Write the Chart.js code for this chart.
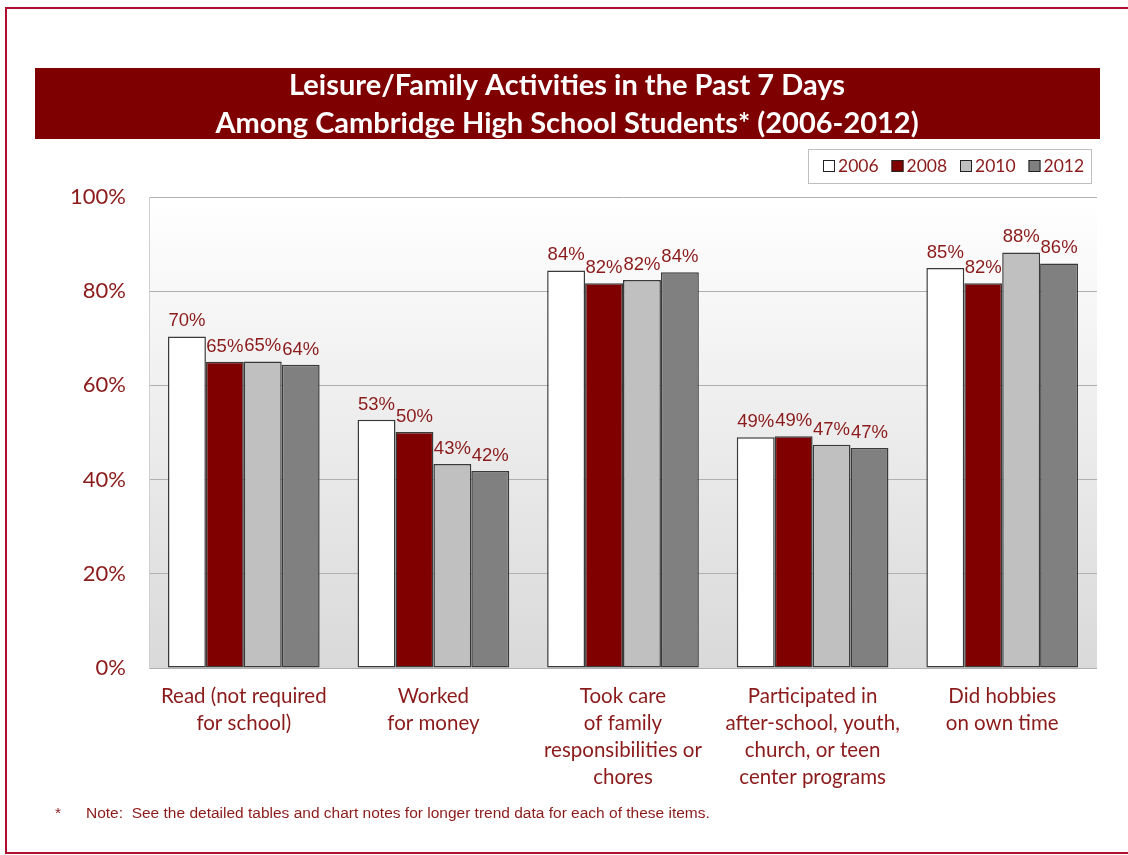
<!DOCTYPE html>
<html>
<head>
<meta charset="utf-8">
<script src="https://cdn.jsdelivr.net/npm/chart.js@4/dist/chart.umd.min.js"></script>
<style>
  html, body { margin: 0; padding: 0; background: #fff; }
  #wrap { width: 1128px; height: 855px; position: relative; }
</style>
</head>
<body>
<div id="wrap"><canvas id="bars" width="1128" height="855"></canvas></div>
<script>
// data
const categories = [
  ['Read (not required', 'for school)'],
  ['Worked', 'for money'],
  ['Took care', 'of family', 'responsibilities or', 'chores'],
  ['Participated in', 'after-school, youth,', 'church, or teen', 'center programs'],
  ['Did hobbies', 'on own time']
]
const years = ['2006', '2008', '2010', '2012']
const v2006 = [70.4, 52.7, 84.4, 49.0, 84.9]
const v2008 = [65.0, 50.1, 81.7, 49.2, 81.7]
const v2010 = [65.1, 43.3, 82.4, 47.4, 88.2]
const v2012 = [64.4, 41.8, 84.0, 46.7, 85.9]
const yTicks = [0, 20, 40, 60, 80, 100]

const titleLines = ['Leisure/Family Activities in the Past 7 Days',
  'Among Cambridge High School Students* (2006-2012)']
const footnote = 'Note:  See the detailed tables and chart notes for longer trend data for each of these items.'

const red = '#7f0000'
const textRed = '#8b1a1a'
const fills = ['#ffffff', '#800000', '#c0c0c0', '#808080']

// page frame, banner, plot gradient, legend box, footnote
const decor = {
  id: 'decor',
  beforeDraw(chart) {
    const ctx = chart.ctx
    const a = chart.chartArea
    ctx.save()
    ctx.fillStyle = '#fff'
    ctx.fillRect(0, 0, chart.width, chart.height)
    ctx.strokeStyle = '#b01030'
    ctx.lineWidth = 2
    ctx.strokeRect(6, 8, chart.width + 10, chart.height - 10)

    ctx.fillStyle = red
    ctx.fillRect(35, 68, 1065, 71)
    ctx.fillStyle = '#fff'
    ctx.font = 'bold 29px Lato'
    ctx.textAlign = 'center'
    ctx.textBaseline = 'middle'
    ctx.fillText(titleLines[0], 567, 86)
    ctx.fillText(titleLines[1], 567, 124)

    const g = ctx.createLinearGradient(0, a.top, 0, a.bottom)
    g.addColorStop(0, '#ffffff')
    g.addColorStop(1, '#d9d9d9')
    ctx.fillStyle = g
    ctx.fillRect(a.left, a.top, a.right - a.left, a.bottom - a.top)

    // legend
    ctx.fillStyle = '#fff'
    ctx.fillRect(808, 149, 283, 34)
    ctx.strokeStyle = '#bfbfbf'
    ctx.lineWidth = 1
    ctx.strokeRect(808.5, 149.5, 283, 34)
    ctx.font = '17.5px Lato'
    ctx.textAlign = 'left'
    let x = 823
    years.forEach((y, i) => {
      ctx.fillStyle = fills[i]
      ctx.fillRect(x, 160, 12, 12)
      ctx.strokeStyle = '#222'
      ctx.strokeRect(x + 0.5, 160.5, 11, 11)
      ctx.fillStyle = textRed
      ctx.fillText(y, x + 15, 166)
      x += 68.5
    })

    ctx.font = '15.5px "Liberation Sans"'
    ctx.fillStyle = textRed
    ctx.fillText('*', 55, 814)
    ctx.fillText(footnote, 86, 814)
    ctx.restore()
  }
}

// value labels above the bars
const barLabels = {
  id: 'barLabels',
  afterDatasetsDraw(chart) {
    const ctx = chart.ctx
    ctx.save()
    ctx.font = '18.5px "Liberation Sans"'
    ctx.fillStyle = textRed
    ctx.textAlign = 'center'
    ctx.textBaseline = 'bottom'
    chart.data.datasets.forEach((ds, i) => {
      chart.getDatasetMeta(i).data.forEach((bar, j) => {
        ctx.fillText(Math.round(ds.data[j]) + '%', bar.x, bar.y - 6)
      })
    })
    ctx.restore()
  }
}

const series = [v2006, v2008, v2010, v2012]

const barConfig = {
  type: 'bar',
  data: {
    labels: categories,
    datasets: series.map((d, i) => ({
      label: years[i],
      data: d,
      backgroundColor: fills[i],
      borderColor: '#3a3a3a',
      borderWidth: 1.5,
      borderSkipped: false,
      barPercentage: 1,
      categoryPercentage: 0.8
    }))
  },
  options: {
    responsive: false,
    animation: false,
    layout: { padding: { top: 197, right: 31, bottom: 0, left: 0 } },
    plugins: {
      legend: { display: false },
      tooltip: { enabled: false }
    },
    scales: {
      x: {
        grid: { display: false },
        border: { display: false },
        ticks: {
          color: textRed,
          font: { family: 'Lato', size: 20.5, lineHeight: 1.32 },
          padding: 7,
          maxRotation: 0,
          autoSkip: false
        },
        afterFit(scale) { scale.height = 187 }
      },
      y: {
        min: 0,
        max: 100,
        afterBuildTicks(scale) { scale.ticks = yTicks.map(v => ({ value: v })) },
        grid: { color: '#b0b0b0', drawTicks: false, lineWidth: 1 },
        border: { display: true, color: '#d0d0d0' },
        ticks: {
          color: textRed,
          font: { family: 'Lato', size: 22 },
          padding: 23,
          callback: v => v + '%'
        },
        afterFit(scale) { scale.width = 149 }
      }
    }
  },
  plugins: [decor, barLabels]
}

const barsCtx = document.getElementById('bars')
window.myBar = new Chart(barsCtx, barConfig)
</script>
</body>
</html>
